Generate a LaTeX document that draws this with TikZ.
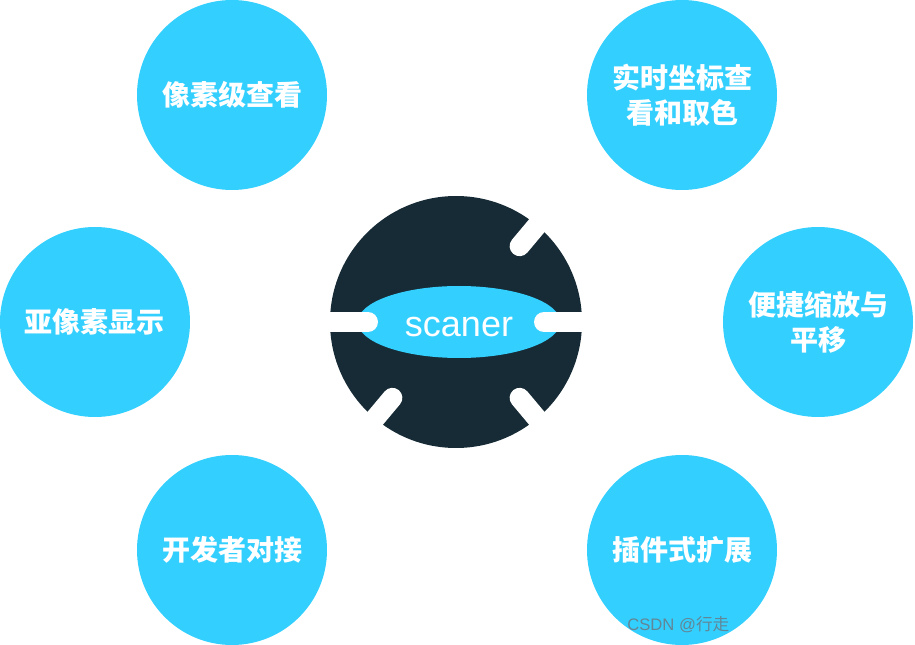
\documentclass[tikz,border=0pt]{standalone}
\usepackage{fontspec}
\usepackage{xcolor}
\usepackage{tikz}
\usetikzlibrary{shapes.geometric,calc}
\newfontfamily\cjk{Noto Sans CJK SC}
\newfontfamily\latin{Liberation Sans}
\definecolor{scanblue}{HTML}{33CFFF}
\definecolor{scandark}{HTML}{172B36}
\definecolor{scanmark}{HTML}{6A7A85}

\begin{document}
\begin{tikzpicture}[x=0.75pt,y=0.75pt,
  feat/.style={circle,fill=scanblue,minimum size=142.5pt,inner sep=0pt,align=center,
    text=white,font=\cjk\bfseries\fontsize{21}{26}\selectfont},
  core/.style={circle,fill=scandark,minimum size=189pt,inner sep=0pt},
  lens/.style={ellipse,fill=scanblue,minimum width=152pt,minimum height=54pt,inner sep=0pt},
  gap/.style={white,line width=15pt,line cap=round}]
  \useasboundingbox (0,0) rectangle (915,-645);
  % outer features
  \node[feat] (pix) at (232,-95) {像素级查看};
  \node[feat] (coord) at (682,-95) {实时坐标查\\看和取色};
  \node[feat] (sub) at (95,-322) {亚像素显示};
  \node[feat] (zoom) at (818,-322) {便捷缩放与\\平移};
  \node[feat] (dev) at (232,-550) {开发者对接};
  \node[feat] (plug) at (682,-550) {插件式扩展};
  % centre
  \node[core] (core) at (456,-322) {};
  \node[lens] (lens) at (459,-322) {};
  \draw[gap] ($(core)+(-88,0)$) -- ($(core)+(-140,0)$);
  \draw[gap] ($(core)+(88,0)$) -- ($(core)+(140,0)$);
  \foreach \a in {50,-50,-130}
    \draw[gap] ($(core)+(\a:99)$) -- ($(core)+(\a:150)$);
  \node[text=white,font=\latin\fontsize{27}{30}\selectfont,yshift=-3.5] (name) at (lens) {scaner};
  \node[anchor=west,text=scanmark,opacity=0.85,font=\latin\fontsize{12.5}{14}\selectfont,inner sep=0pt]
    (wm) at (627,-625) {CSDN @{\cjk 行走}};
\end{tikzpicture}
\end{document}
